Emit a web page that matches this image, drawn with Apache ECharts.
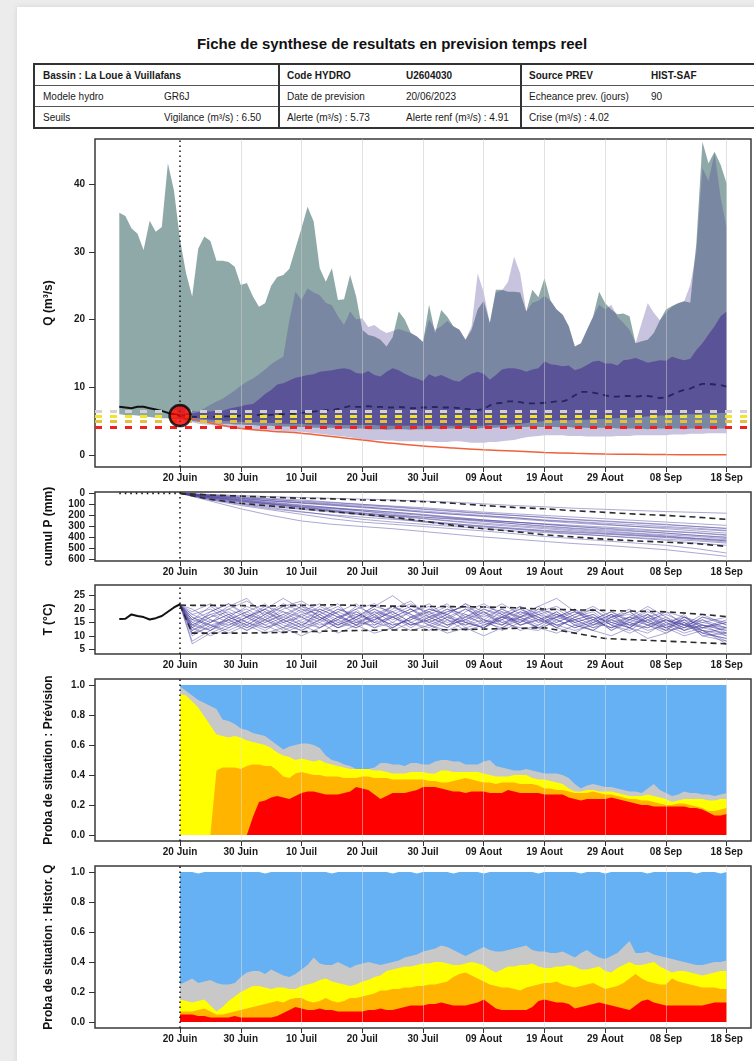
<!DOCTYPE html>
<html lang="fr">
<head>
<meta charset="utf-8">
<title>Fiche de synthese de resultats en prevision temps reel</title>
<script src="https://cdn.jsdelivr.net/npm/echarts@6/dist/echarts.min.js"></script>
<style>
  html, body { margin: 0; padding: 0; }
  body { width: 754px; height: 1061px; background: #ececec; overflow: hidden; position: relative;
         font-family: 'Liberation Sans', Arial, Helvetica, sans-serif; }
  #page { position: absolute; left: 17px; top: 7px; width: 780px; height: 1100px; background: #fff;
          box-shadow: 0 0 6px rgba(0,0,0,0.10); }
  #titre { position: absolute; left: 0; top: 35px; width: 784px; text-align: center; font-weight: bold;
           font-size: 15px; line-height: 18px; color: #111; }
  #fiche { position: absolute; left: 33px; top: 63px; width: 740px; border-collapse: collapse;
           table-layout: fixed; font-size: 10px; color: #1a1a1a; border: 2px solid #333; }
  #fiche td { height: 20px; padding: 0 0 0 8px; white-space: nowrap; overflow: visible;
              border-top: 1px solid #555; border-bottom: 1px solid #555; }
  #fiche tr.entete td { font-weight: bold; }
  #fiche td.sep { border-left: 2px solid #333; padding-left: 7px; }
  #chart { position: absolute; left: 0; top: 0; width: 754px; height: 1061px; }
</style>
</head>
<body>
<div id="page"></div>
<div id="titre">Fiche de synthese de resultats en prevision temps reel</div>
<table id="fiche">
  <colgroup><col style="width:122px"><col style="width:123px"><col style="width:119px"><col style="width:123px"><col style="width:122px"><col style="width:131px"></colgroup>
  <tr class="entete"><td colspan="2">Bassin : La Loue à Vuillafans</td><td class="sep">Code HYDRO</td><td>U2604030</td><td class="sep">Source PREV</td><td>HIST-SAF</td></tr>
  <tr><td>Modele hydro</td><td>GR6J</td><td class="sep">Date de prevision</td><td>20/06/2023</td><td class="sep">Echeance prev. (jours)</td><td>90</td></tr>
  <tr><td>Seuils</td><td>Vigilance (m³/s) : 6.50</td><td class="sep">Alerte (m³/s) : 5.73</td><td>Alerte renf (m³/s) : 4.91</td><td class="sep">Crise (m³/s) : 4.02</td><td></td></tr>
</table>
<div id="chart"></div>
<script>
// ---- time axis: days counted from the forecast date (20/06/2023 = day 0) ----
const firstDay = -14, lastDay = 94;
const xTickDays   = [0, 10, 20, 30, 40, 50, 60, 70, 80, 90];
const xTickLabels = ['20 Juin', '30 Juin', '10 Juil', '20 Juil', '30 Juil', '09 Aout', '19 Aout', '29 Aout', '08 Sep', '18 Sep'];
const qTicks    = [0, 10, 20, 30, 40];
const pTicks    = [0, 100, 200, 300, 400, 500, 600];
const tTicks    = [5, 10, 15, 20, 25];
const probTicks = [0, 0.2, 0.4, 0.6, 0.8, 1.0];

// ---- thresholds (m3/s) ----
const seuilNoms    = ['Vigilance', 'Alerte', 'Alerte renf', 'Crise'];
const seuilValeurs = [6.50, 5.73, 4.91, 4.02];

// ---- discharge: observed (day -10..0) ----
const obsQ = [7.1, 7.0, 6.9, 7.1, 7.1, 6.9, 6.7, 6.5, 6.2, 6.0, 5.8];
const lastObsQ = 5.8;

// ---- discharge: historical envelope (day -10..90) ----
const histMax = [35.8, 35.3, 33.5, 32.7, 30.3, 34.6, 33.0, 33.7, 43.1, 39.1, 31.8,
  26.8, 23.4, 30.5, 32.3, 31.6, 28.7, 28.7, 28.5, 27.8, 25.1,
  25.4, 23.4, 21.9, 22.4, 25.0, 26.3, 26.6, 27.5, 30.5, 33.5,
  36.7, 34.5, 27.6, 25.6, 27.6, 22.9, 23.0, 26.6, 23.4, 18.5,
  17.7, 17.5, 17.0, 16.0, 17.4, 21.2, 20.0, 18.0, 17.5, 16.7,
  22.2, 18.0, 21.4, 20.4, 19.0, 18.5, 17.0, 18.5, 21.5, 22.8,
  19.5, 24.4, 24.4, 24.1, 24.1, 24.0, 21.2, 24.4, 23.3, 26.1,
  22.8, 21.5, 20.7, 19.0, 16.0, 16.5, 18.5, 20.4, 24.1, 22.4,
  21.5, 20.8, 20.9, 20.5, 16.5, 16.8, 17.0, 18.0, 19.9, 21.5,
  22.0, 22.4, 22.7, 22.5, 31.3, 46.3, 43.1, 44.8, 42.9, 40.1];
const histMin = [6.0, 5.9, 5.9, 5.8, 5.7, 5.6, 5.5, 5.4, 5.4, 5.3, 5.3,
  5.1, 5.0, 4.9, 4.8, 4.8, 4.7, 4.6, 4.6, 4.5, 4.5,
  4.4, 4.4, 4.3, 4.3, 4.3, 4.2, 4.2, 4.2, 4.1, 4.1,
  4.1, 4.0, 4.0, 4.0, 4.0, 3.9, 3.9, 3.9, 3.9, 3.9,
  3.8, 3.8, 3.8, 3.7, 3.8, 3.8, 3.8, 3.7, 3.8, 3.8,
  3.8, 3.9, 3.8, 3.9, 3.9, 3.9, 4.0, 3.9, 3.9, 4.0,
  4.0, 4.0, 4.1, 4.0, 4.1, 4.1, 4.1, 4.2, 4.1, 4.1,
  4.1, 4.1, 4.0, 4.1, 4.0, 4.0, 4.0, 3.9, 4.0, 4.0,
  4.0, 3.9, 3.9, 3.9, 3.9, 3.9, 3.8, 3.9, 3.9, 3.9,
  3.9, 3.9, 3.8, 3.9, 3.9, 3.9, 3.9, 3.9, 3.9, 3.9];

// ---- discharge: ensemble forecast (day 0..90) ----
const prevMax = [5.9, 6.2, 6.5, 6.4, 6.9, 7.4, 7.9, 8.3, 8.9, 9.5, 10.2,
  10.8, 11.3, 11.9, 12.6, 13.4, 14.0, 14.5, 19.9, 24.1, 22.9,
  24.6, 24.0, 23.6, 22.5, 22.1, 20.5, 19.2, 21.2, 20.0, 20.2,
  18.9, 19.2, 18.5, 18.0, 18.3, 18.6, 18.3, 18.0, 17.5, 16.7,
  20.0, 18.5, 19.0, 19.8, 19.0, 18.5, 17.0, 19.0, 26.8, 24.0,
  19.5, 24.0, 24.3, 25.6, 29.3, 26.8, 21.2, 22.5, 22.8, 23.5,
  22.8, 21.5, 20.7, 19.0, 16.0, 16.5, 18.5, 20.4, 22.2, 21.5,
  22.2, 20.4, 19.5, 18.5, 16.5, 19.5, 22.4, 21.0, 19.9, 21.0,
  21.9, 22.4, 22.7, 25.1, 30.0, 42.4, 40.5, 44.6, 38.0, 33.5];
const prevMin = [5.6, 5.1, 4.8, 4.6, 4.5, 4.4, 4.3, 4.2, 4.1, 4.0, 3.9,
  3.8, 3.8, 3.7, 3.7, 3.6, 3.6, 3.5, 3.5, 3.4, 3.4,
  3.3, 3.2, 3.1, 3.0, 2.9, 2.8, 2.7, 2.6, 2.4, 2.3,
  2.2, 2.2, 2.2, 2.1, 2.1, 2.0, 2.0, 2.0, 2.0, 2.0,
  2.0, 1.9, 1.9, 1.9, 2.0, 2.0, 1.9, 1.8, 1.8, 1.8,
  1.9, 1.9, 2.0, 2.1, 2.2, 2.4, 2.6, 2.7, 2.8, 2.9,
  2.9, 2.9, 2.9, 2.8, 2.8, 2.8, 2.7, 2.7, 2.7, 2.7,
  2.7, 2.8, 2.8, 2.8, 2.9, 2.9, 2.9, 2.9, 2.9, 2.9,
  3.0, 3.0, 3.0, 3.1, 3.1, 3.1, 3.2, 3.2, 3.2, 3.2];
const prevQ75 = [5.9, 6.0, 6.1, 6.3, 6.4, 6.4, 6.5, 6.5, 6.8, 7.0, 7.2,
  7.4, 7.5, 8.2, 9.0, 9.6, 10.4, 10.6, 11.0, 11.4, 11.6,
  11.8, 11.9, 12.3, 12.4, 12.5, 12.7, 12.8, 12.6, 12.1, 12.0,
  12.4, 11.8, 11.6, 12.3, 12.8, 12.5, 12.0, 11.6, 11.3, 10.9,
  11.9, 11.5, 11.8, 11.4, 11.0, 10.8, 11.5, 12.0, 12.3, 12.0,
  11.1, 11.8, 12.6, 12.8, 12.8, 12.6, 12.3, 12.6, 12.8, 13.8,
  13.4, 13.3, 13.1, 13.2, 12.5, 12.8, 13.3, 13.8, 13.9, 13.5,
  13.5, 13.2, 14.0, 14.1, 14.3, 14.0, 13.6, 13.8, 14.0, 13.9,
  14.5, 14.2, 14.0, 14.2, 15.5, 16.5, 17.8, 19.0, 20.5, 21.2];
const prevQ25 = [5.8, 5.6, 5.5, 5.4, 5.3, 5.2, 5.1, 5.0, 5.0, 4.9, 4.9,
  4.8, 4.8, 4.8, 4.7, 4.7, 4.7, 4.6, 4.6, 4.6, 4.6,
  4.5, 4.5, 4.5, 4.5, 4.5, 4.4, 4.4, 4.4, 4.4, 4.4,
  4.4, 4.4, 4.3, 4.3, 4.3, 4.3, 4.3, 4.3, 4.3, 4.3,
  4.3, 4.3, 4.3, 4.3, 4.3, 4.3, 4.3, 4.3, 4.3, 4.3,
  4.4, 4.4, 4.4, 4.5, 4.5, 4.6, 4.7, 4.8, 4.9, 5.0,
  5.0, 5.1, 5.1, 5.1, 5.2, 5.2, 5.2, 5.3, 5.3, 5.3,
  5.4, 5.4, 5.5, 5.5, 5.6, 5.6, 5.7, 5.7, 5.8, 5.8,
  5.9, 5.9, 6.0, 6.0, 6.0, 6.1, 6.1, 6.1, 6.2, 6.2];
const prevMed = [5.8, 5.7, 5.6, 5.6, 5.6, 5.6, 5.6, 5.7, 5.7, 5.7, 5.8,
  5.8, 5.8, 5.9, 5.9, 5.9, 6.0, 6.0, 6.1, 6.1, 6.2,
  6.3, 6.4, 6.5, 6.6, 6.6, 6.8, 7.0, 7.2, 7.1, 7.1,
  7.2, 7.1, 7.1, 7.0, 7.0, 7.1, 7.0, 6.9, 6.9, 7.0,
  7.0, 7.1, 7.0, 7.0, 7.0, 6.9, 6.8, 6.7, 6.6, 6.8,
  7.3, 7.6, 7.7, 7.9, 7.9, 7.8, 7.6, 7.6, 7.6, 7.7,
  7.8, 7.9, 7.9, 8.2, 8.8, 9.3, 9.3, 9.2, 9.0, 8.8,
  8.6, 8.6, 8.7, 8.7, 8.6, 8.7, 8.7, 8.6, 8.4, 8.5,
  8.9, 9.3, 9.6, 9.8, 10.2, 10.5, 10.5, 10.4, 10.3, 10.1];
// recession without rain
const recDays = [0, 5, 10, 15, 20, 25, 30, 35, 40, 45, 50, 55, 60, 65, 70, 75, 80, 85, 90];
const recQ    = [5.8, 4.7, 3.9, 3.5, 3.2, 2.7, 2.2, 1.7, 1.3, 1.0, 0.75, 0.55, 0.35, 0.22, 0.12, 0.07, 0.03, 0.01, 0.0];

// ---- cumulated precipitation (mm) ----
const obsCumulP = [0, 0, 0, 0, 0, 0, 0, 0, 0, 0, 0];
const pDays = [0, 5, 10, 15, 20, 25, 30, 35, 40, 45, 50, 55, 60, 65, 70, 75, 80, 85, 90];
const pMembers = [
  [0, 10, 20, 30, 38, 45, 52, 60, 70, 80, 95, 110, 122, 135, 145, 155, 165, 172, 180],
  [0, 20, 45, 70, 90, 110, 125, 140, 160, 180, 200, 220, 245, 260, 280, 300, 320, 340, 360],
  [0, 40, 80, 110, 140, 160, 185, 205, 230, 255, 280, 300, 320, 340, 360, 375, 390, 410, 430],
  [0, 60, 110, 150, 190, 230, 260, 280, 300, 320, 340, 365, 390, 410, 430, 450, 470, 500, 540],
  [0, 30, 60, 90, 115, 135, 150, 170, 190, 215, 240, 260, 275, 290, 305, 320, 340, 355, 375],
  [0, 15, 35, 55, 75, 95, 110, 125, 145, 165, 185, 200, 215, 235, 250, 265, 280, 300, 320],
  [0, 50, 95, 130, 165, 200, 235, 260, 280, 300, 320, 340, 355, 370, 385, 400, 415, 430, 450],
  [0, 25, 50, 70, 85, 100, 120, 145, 170, 190, 210, 230, 250, 270, 285, 300, 310, 325, 340],
  [0, 45, 75, 100, 125, 150, 175, 200, 225, 250, 270, 290, 310, 330, 350, 365, 385, 405, 420],
  [0, 35, 65, 95, 125, 155, 180, 200, 215, 230, 245, 260, 280, 300, 315, 330, 345, 360, 380],
  [0, 70, 140, 200, 250, 280, 300, 320, 345, 370, 395, 415, 435, 455, 470, 490, 510, 540, 570],
  [0, 20, 40, 55, 70, 85, 100, 115, 130, 150, 170, 185, 200, 215, 230, 245, 260, 275, 290],
  [0, 30, 55, 80, 105, 130, 160, 190, 215, 235, 255, 275, 295, 315, 330, 345, 360, 380, 400],
  [0, 40, 70, 95, 120, 140, 160, 180, 200, 225, 250, 275, 300, 320, 340, 360, 375, 390, 410],
  [0, 25, 45, 65, 85, 105, 130, 150, 170, 190, 205, 220, 240, 255, 270, 285, 300, 315, 335],
  [0, 30, 70, 100, 130, 160, 190, 220, 250, 275, 300, 320, 340, 355, 370, 385, 400, 420, 440],
  [0, 15, 30, 45, 60, 80, 100, 120, 140, 160, 180, 200, 220, 240, 255, 270, 285, 300, 315],
  [0, 55, 100, 140, 170, 195, 215, 235, 255, 275, 295, 315, 335, 350, 365, 380, 395, 410, 430],
  [0, 35, 60, 85, 110, 130, 150, 170, 195, 220, 240, 260, 280, 300, 320, 340, 360, 380, 395],
  [0, 45, 90, 120, 145, 170, 195, 225, 260, 285, 305, 325, 345, 365, 385, 405, 425, 450, 470]
];
const pQ10 = [0, 15, 25, 35, 45, 50, 60, 65, 75, 90, 110, 127, 140, 158, 172, 188, 200, 215, 236];
const pQ90 = [0, 55, 90, 115, 140, 165, 190, 215, 250, 290, 320, 345, 375, 395, 415, 430, 442, 455, 480];

// ---- air temperature (°C) ----
const obsT = [16.3, 16.4, 18.0, 17.4, 17.0, 16.1, 16.6, 17.4, 19.0, 20.6, 21.8];
const tDays = [0, 2, 5, 8, 11, 14, 17, 20, 23, 26, 29, 32, 35, 38, 41, 44, 47, 50, 53, 56, 59, 62, 65, 68, 71, 74, 77, 80, 83, 86, 90];
const tMembers = [
  [21.5, 14, 17, 19, 15, 12, 16, 20, 18, 14, 17, 21, 19, 15, 13, 17, 20, 16, 14, 18, 21, 17, 15, 12, 16, 19, 15, 13, 16, 12, 10],
  [21.5, 11, 13, 17, 21, 18, 14, 12, 16, 19, 22, 17, 14, 16, 20, 18, 13, 15, 19, 17, 14, 18, 16, 13, 15, 17, 14, 11, 14, 16, 13],
  [21.5, 18, 20, 16, 13, 17, 21, 23, 19, 15, 13, 16, 19, 22, 18, 15, 17, 21, 19, 14, 16, 13, 17, 19, 14, 12, 16, 18, 15, 11, 9],
  [21.5, 8, 12, 15, 18, 14, 11, 14, 17, 13, 16, 19, 15, 12, 14, 17, 15, 19, 16, 12, 14, 17, 20, 16, 13, 15, 12, 14, 11, 13, 15],
  [21.5, 16, 19, 22, 18, 16, 19, 15, 13, 17, 20, 14, 17, 20, 16, 13, 19, 22, 18, 15, 19, 21, 17, 14, 18, 16, 19, 16, 13, 17, 14],
  [21.5, 13, 10, 13, 16, 20, 17, 14, 11, 15, 18, 16, 21, 18, 14, 12, 15, 13, 17, 20, 17, 13, 11, 15, 18, 13, 11, 15, 17, 14, 12],
  [21.5, 20, 16, 14, 17, 21, 19, 17, 21, 18, 14, 18, 12, 15, 18, 21, 17, 15, 13, 17, 19, 15, 18, 20, 16, 14, 17, 13, 10, 12, 8],
  [21.5, 12, 15, 18, 13, 16, 13, 18, 15, 11, 14, 19, 17, 13, 17, 19, 21, 18, 15, 13, 12, 16, 19, 17, 12, 16, 18, 14, 16, 10, 11],
  [21.5, 17, 14, 11, 14, 18, 22, 19, 16, 20, 17, 13, 15, 19, 21, 16, 14, 18, 22, 18, 15, 19, 14, 12, 17, 20, 16, 12, 13, 15, 17],
  [21.5, 15, 18, 20, 23, 19, 15, 17, 14, 16, 21, 18, 13, 17, 15, 18, 22, 16, 14, 19, 16, 14, 16, 18, 14, 11, 14, 17, 12, 14, 13],
  [21.5, 10, 14, 16, 12, 15, 18, 21, 17, 13, 15, 18, 21, 17, 19, 14, 16, 20, 17, 16, 18, 16, 13, 16, 19, 15, 13, 16, 14, 12, 7],
  [21.5, 19, 22, 18, 15, 13, 15, 18, 20, 17, 19, 15, 17, 14, 16, 20, 18, 14, 16, 21, 18, 14, 12, 14, 17, 18, 15, 19, 17, 13, 15],
  [21.5, 14, 12, 16, 19, 22, 16, 13, 16, 20, 18, 15, 20, 23, 17, 14, 18, 16, 20, 17, 13, 17, 19, 15, 13, 16, 20, 15, 12, 16, 11],
  [21.5, 16, 21, 17, 14, 11, 13, 16, 19, 22, 15, 17, 14, 16, 19, 22, 15, 13, 17, 15, 20, 18, 15, 17, 15, 13, 17, 14, 18, 11, 13],
  [21.5, 7, 11, 14, 17, 20, 24, 20, 16, 13, 17, 21, 25, 20, 15, 18, 22, 19, 15, 17, 21, 24, 19, 16, 13, 17, 21, 17, 14, 18, 14],
  [21.5, 13, 17, 21, 24, 17, 13, 10, 13, 17, 14, 11, 13, 17, 14, 11, 13, 10, 13, 16, 13, 11, 14, 12, 10, 13, 9, 11, 15, 10, 8],
  [21.5, 12, 16, 13, 17, 20, 15, 12, 15, 19, 16, 13, 17, 20, 17, 14, 16, 19, 14, 17, 20, 16, 13, 15, 18, 14, 16, 13, 15, 12, 11],
  [21.5, 15, 12, 17, 14, 18, 21, 17, 13, 16, 20, 22, 18, 14, 17, 20, 16, 13, 18, 21, 15, 17, 20, 14, 16, 13, 18, 15, 12, 14, 10],
  [21.5, 18, 15, 20, 17, 13, 16, 19, 22, 18, 14, 16, 19, 15, 12, 16, 20, 17, 20, 16, 13, 15, 18, 21, 17, 14, 13, 16, 13, 17, 15],
  [21.5, 11, 15, 18, 20, 16, 12, 15, 18, 14, 17, 20, 16, 19, 22, 17, 14, 16, 12, 15, 18, 20, 16, 18, 14, 17, 15, 12, 16, 14, 12],
  [21.5, 14, 18, 15, 12, 16, 20, 22, 17, 14, 19, 15, 13, 17, 20, 18, 15, 13, 16, 19, 17, 14, 16, 13, 17, 19, 14, 16, 14, 11, 9],
  [21.5, 17, 13, 16, 19, 15, 18, 14, 18, 21, 16, 20, 17, 14, 16, 19, 21, 15, 17, 14, 16, 19, 15, 17, 12, 15, 18, 13, 17, 15, 13],
  [21.5, 13, 19, 22, 17, 14, 17, 21, 19, 16, 13, 17, 21, 18, 15, 13, 17, 20, 18, 14, 17, 13, 17, 20, 15, 13, 17, 19, 14, 13, 11],
  [21.5, 16, 14, 12, 15, 19, 16, 13, 20, 17, 15, 14, 18, 21, 19, 16, 12, 14, 17, 20, 16, 18, 14, 16, 19, 16, 14, 12, 17, 13, 16]
];
const tQDays = [0, 2, 5, 10, 15, 20, 25, 30, 35, 40, 45, 50, 55, 60, 65, 70, 75, 80, 85, 90];
const tQ90 = [21.5, 21.4, 21.4, 21.3, 21.2, 21.4, 21.6, 21.3, 21.1, 21.0, 20.9, 20.8, 20.5, 20.0, 19.7, 19.5, 19.2, 19.0, 18.2, 17.2];
const tQ10 = [21.5, 11.0, 11.0, 11.0, 11.2, 11.5, 11.8, 12.0, 12.2, 12.2, 12.3, 12.5, 12.8, 13.0, 11.0, 9.0, 8.5, 8.0, 7.5, 7.0];

// ---- situation probabilities, cumulated from "Crise" upward (day 0..90) ----
const prevTotal = [1,1,1,1,1,1,1,1,1,1,1, 1,1,1,1,1,1,1,1,1,1, 1,1,1,1,1,1,1,1,1,1, 1,1,1,1,1,1,1,1,1,1,
  1,1,1,1,1,1,1,1,1,1, 1,1,1,1,1,1,1,1,1,1, 1,1,1,1,1,1,1,1,1,1, 1,1,1,1,1,1,1,1,1,1, 1,1,1,1,1,1,1,1,1,1];
const prevVigil = [0.99, 0.96, 0.93, 0.90, 0.88, 0.86, 0.84, 0.77, 0.76, 0.74, 0.71,
  0.70, 0.68, 0.67, 0.66, 0.63, 0.60, 0.57, 0.59, 0.60, 0.61,
  0.61, 0.60, 0.58, 0.53, 0.50, 0.49, 0.47, 0.46, 0.44, 0.44,
  0.44, 0.45, 0.48, 0.48, 0.47, 0.47, 0.46, 0.48, 0.48, 0.47,
  0.47, 0.49, 0.50, 0.50, 0.49, 0.49, 0.47, 0.47, 0.47, 0.49,
  0.50, 0.46, 0.45, 0.44, 0.43, 0.43, 0.44, 0.43, 0.42, 0.41,
  0.41, 0.41, 0.40, 0.38, 0.34, 0.31, 0.33, 0.34, 0.33, 0.32,
  0.32, 0.31, 0.30, 0.29, 0.29, 0.28, 0.31, 0.34, 0.30, 0.28,
  0.26, 0.27, 0.29, 0.28, 0.28, 0.27, 0.27, 0.26, 0.27, 0.28];
const prevAlerte = [0.94, 0.93, 0.89, 0.85, 0.79, 0.73, 0.67, 0.66, 0.65, 0.66, 0.65,
  0.63, 0.62, 0.61, 0.60, 0.58, 0.55, 0.53, 0.52, 0.50, 0.51,
  0.50, 0.49, 0.50, 0.48, 0.47, 0.46, 0.45, 0.44, 0.44, 0.44,
  0.44, 0.43, 0.43, 0.42, 0.41, 0.41, 0.41, 0.42, 0.42, 0.42,
  0.41, 0.41, 0.43, 0.43, 0.42, 0.42, 0.42, 0.42, 0.42, 0.41,
  0.40, 0.39, 0.39, 0.39, 0.40, 0.40, 0.40, 0.38, 0.37, 0.37,
  0.36, 0.35, 0.34, 0.31, 0.29, 0.29, 0.30, 0.30, 0.29, 0.29,
  0.29, 0.28, 0.27, 0.26, 0.26, 0.26, 0.27, 0.26, 0.25, 0.24,
  0.22, 0.23, 0.24, 0.24, 0.24, 0.24, 0.23, 0.23, 0.24, 0.24];
const prevRenf = [0, 0, 0, 0, 0, 0, 0.43, 0.45, 0.45, 0.45, 0.44,
  0.46, 0.47, 0.47, 0.46, 0.46, 0.43, 0.39, 0.38, 0.41, 0.42,
  0.41, 0.40, 0.40, 0.39, 0.39, 0.39, 0.38, 0.38, 0.38, 0.39,
  0.39, 0.38, 0.38, 0.38, 0.37, 0.37, 0.37, 0.37, 0.37, 0.37,
  0.36, 0.36, 0.35, 0.35, 0.36, 0.37, 0.38, 0.37, 0.36, 0.35,
  0.35, 0.34, 0.35, 0.35, 0.35, 0.34, 0.34, 0.34, 0.33, 0.31,
  0.31, 0.30, 0.30, 0.29, 0.28, 0.28, 0.28, 0.29, 0.28, 0.27,
  0.27, 0.26, 0.25, 0.24, 0.24, 0.23, 0.23, 0.22, 0.21, 0.20,
  0.20, 0.21, 0.21, 0.20, 0.19, 0.18, 0.16, 0.16, 0.17, 0.18];
const prevCrise = [0, 0, 0, 0, 0, 0, 0, 0, 0, 0, 0,
  0, 0.12, 0.22, 0.23, 0.25, 0.26, 0.25, 0.24, 0.26, 0.28,
  0.29, 0.29, 0.28, 0.27, 0.27, 0.27, 0.28, 0.29, 0.32, 0.31,
  0.30, 0.27, 0.24, 0.26, 0.28, 0.28, 0.28, 0.29, 0.30, 0.32,
  0.32, 0.32, 0.31, 0.30, 0.29, 0.29, 0.28, 0.29, 0.29, 0.29,
  0.28, 0.28, 0.28, 0.30, 0.29, 0.28, 0.28, 0.28, 0.28, 0.27,
  0.27, 0.27, 0.27, 0.25, 0.24, 0.23, 0.24, 0.24, 0.24, 0.24,
  0.25, 0.24, 0.23, 0.22, 0.21, 0.20, 0.20, 0.19, 0.19, 0.19,
  0.19, 0.19, 0.19, 0.18, 0.18, 0.17, 0.15, 0.13, 0.13, 0.14];

const histTotal = [1,1,1,0.99,1,1,1,1,1,1,1, 1,1,1,0.99,1,1,1,1,1,1, 1,1,1,1,0.99,1,1,1,1,1,
  1,1,1,1,0.99,1,1,1,0.99,1, 1,1,1,1,0.99,1,1,1,1,0.99, 1,1,1,1,1,1,1,1,0.99,1,
  1,1,1,1,1,0.99,1,1,1,0.99, 1,1,1,1,1,1,0.99,1,1,1, 1,1,1,1,0.99,1,1,1,0.99,1];
const histVigil = [0.25, 0.27, 0.29, 0.26, 0.27, 0.28, 0.26, 0.25, 0.25, 0.26, 0.30,
  0.33, 0.34, 0.34, 0.32, 0.35, 0.33, 0.31, 0.30, 0.32, 0.35,
  0.38, 0.43, 0.39, 0.38, 0.38, 0.40, 0.38, 0.36, 0.38, 0.39,
  0.40, 0.39, 0.38, 0.39, 0.40, 0.41, 0.43, 0.44, 0.45, 0.47,
  0.48, 0.49, 0.51, 0.50, 0.48, 0.46, 0.44, 0.46, 0.48, 0.50,
  0.48, 0.47, 0.47, 0.48, 0.49, 0.50, 0.51, 0.48, 0.47, 0.47,
  0.46, 0.46, 0.47, 0.45, 0.43, 0.46, 0.48, 0.45, 0.43, 0.42,
  0.44, 0.46, 0.50, 0.54, 0.46, 0.46, 0.47, 0.45, 0.44, 0.43,
  0.42, 0.41, 0.40, 0.39, 0.38, 0.38, 0.39, 0.40, 0.40, 0.41];
const histAlerte = [0.15, 0.14, 0.13, 0.14, 0.15, 0.11, 0.07, 0.10, 0.14, 0.17, 0.20,
  0.22, 0.24, 0.24, 0.23, 0.22, 0.23, 0.23, 0.22, 0.22, 0.24,
  0.25, 0.26, 0.28, 0.29, 0.27, 0.26, 0.25, 0.24, 0.25, 0.27,
  0.28, 0.30, 0.31, 0.34, 0.35, 0.36, 0.37, 0.37, 0.38, 0.39,
  0.39, 0.40, 0.40, 0.39, 0.38, 0.38, 0.39, 0.40, 0.39, 0.38,
  0.35, 0.33, 0.35, 0.37, 0.37, 0.38, 0.38, 0.39, 0.37, 0.36,
  0.36, 0.37, 0.37, 0.38, 0.37, 0.35, 0.35, 0.36, 0.37, 0.34,
  0.33, 0.36, 0.38, 0.40, 0.38, 0.38, 0.39, 0.40, 0.37, 0.35,
  0.33, 0.34, 0.34, 0.33, 0.32, 0.31, 0.32, 0.33, 0.34, 0.34];
const histRenf = [0.07, 0.07, 0.07, 0.08, 0.09, 0.07, 0.05, 0.05, 0.06, 0.07, 0.08,
  0.09, 0.10, 0.11, 0.12, 0.13, 0.14, 0.13, 0.15, 0.16, 0.16,
  0.14, 0.13, 0.14, 0.16, 0.14, 0.13, 0.14, 0.16, 0.16, 0.17,
  0.18, 0.19, 0.21, 0.21, 0.22, 0.22, 0.23, 0.23, 0.24, 0.24,
  0.25, 0.25, 0.26, 0.27, 0.30, 0.32, 0.33, 0.31, 0.29, 0.27,
  0.25, 0.24, 0.23, 0.23, 0.22, 0.21, 0.23, 0.24, 0.25, 0.26,
  0.26, 0.27, 0.25, 0.24, 0.23, 0.24, 0.25, 0.26, 0.24, 0.22,
  0.23, 0.24, 0.26, 0.29, 0.32, 0.29, 0.27, 0.26, 0.25, 0.25,
  0.29, 0.27, 0.26, 0.25, 0.24, 0.23, 0.23, 0.23, 0.22, 0.22];
const histCrise = [0.05, 0.05, 0.05, 0.04, 0.04, 0.03, 0.03, 0.03, 0.03, 0.04, 0.03,
  0.03, 0.03, 0.03, 0.03, 0.03, 0.04, 0.06, 0.08, 0.10, 0.09,
  0.08, 0.08, 0.09, 0.08, 0.08, 0.07, 0.07, 0.07, 0.07, 0.07,
  0.08, 0.08, 0.09, 0.08, 0.08, 0.09, 0.10, 0.11, 0.11, 0.11,
  0.12, 0.12, 0.13, 0.12, 0.11, 0.11, 0.11, 0.12, 0.13, 0.15,
  0.12, 0.09, 0.08, 0.08, 0.08, 0.08, 0.08, 0.10, 0.14, 0.15,
  0.14, 0.13, 0.13, 0.12, 0.09, 0.10, 0.11, 0.12, 0.13, 0.12,
  0.11, 0.10, 0.09, 0.08, 0.11, 0.14, 0.15, 0.13, 0.12, 0.11,
  0.11, 0.11, 0.11, 0.11, 0.11, 0.11, 0.12, 0.13, 0.13, 0.13];

// ---------------------------------------------------------------------------
const FONT = "'Liberation Sans', Arial, Helvetica, sans-serif";
const COL = {
  hist: '#8fa8a8', prevEnv: 'rgba(77,61,148,0.31)', prevInner: 'rgba(77,61,148,0.70)',
  median: '#26265e', rec: '#f0603a', ens: 'rgba(72,62,158,0.45)', quant: '#2b2b2b',
  seuils: ['#d2d2d6', '#f2e52a', '#e6bf3c', '#ee2020'],
  classes: { total: '#66b0f4', vigil: '#c8c8c8', alerte: '#ffff00', renf: '#ffb400', crise: '#ff0000' },
  grid: 'rgba(200,200,200,0.55)', gridProb: 'rgba(225,225,225,0.5)'
};

// one category per day over the plotted span
const dayCats = [];
for (let d = firstDay; d <= lastDay; d++) dayCats.push(String(d));
const isTickDay = (idx, val) => xTickDays.indexOf(Number(val)) >= 0;

const daily  = (start, vals) => vals.map((v, i) => [String(start + i), v]);
const paired = (days, vals) => days.map((d, i) => [String(d), vals[i]]);
const diff   = (a, b) => a.map((v, i) => +(v - b[i]).toFixed(3));

const gridBoxes = [
  { left: 95, top: 139, width: 656, height: 328 },
  { left: 95, top: 492, width: 656, height: 69 },
  { left: 95, top: 585, width: 656, height: 69 },
  { left: 95, top: 679, width: 656, height: 162 },
  { left: 95, top: 866, width: 656, height: 162 }
].map(b => Object.assign({ show: true, borderColor: '#3a3a3a', borderWidth: 1.5, backgroundColor: 'rgba(0,0,0,0)' }, b));

const labelStyle = { fontFamily: FONT, fontWeight: 'bold', fontSize: 10, color: '#1a1a1a' };

function xAxisFor(gi) {
  return {
    type: 'category', gridIndex: gi, data: dayCats, boundaryGap: false,
    axisLine: { show: false, onZero: false }, splitLine: { show: false },
    axisTick: { show: true, interval: isTickDay, length: 5, lineStyle: { color: '#333' } },
    axisLabel: Object.assign({ interval: isTickDay, margin: 6,
      formatter: v => { const k = xTickDays.indexOf(Number(v)); return k < 0 ? '' : xTickLabels[k]; } }, labelStyle)
  };
}
function yAxisFor(gi, min, max, ticks, name, fmt, inverse) {
  return {
    type: 'value', gridIndex: gi, min: min, max: max, inverse: !!inverse,
    name: name, nameLocation: 'middle', nameRotate: 90, nameGap: 40,
    nameTextStyle: { fontFamily: FONT, fontWeight: 'bold', fontSize: 12, color: '#111' },
    axisLine: { show: false, onZero: false }, splitLine: { show: false },
    axisTick: { show: true, customValues: ticks, length: 6, lineStyle: { color: '#333' } },
    axisLabel: Object.assign({ customValues: ticks, margin: 10, formatter: fmt }, labelStyle)
  };
}

const lineBase = { type: 'line', symbol: 'none', showSymbol: false, silent: true, animation: false, emphasis: { disabled: true } };
const onGrid = (gi, s) => Object.assign({}, lineBase, { xAxisIndex: gi, yAxisIndex: gi }, s);

// vertical guides: light day grid on top of the fills, dotted line on the forecast date
function guides(gi, color, extra) {
  const lines = xTickDays.slice(1).map(d => ({ xAxis: String(d), lineStyle: { color: color, width: 1, type: 'solid' } }));
  lines.push({ xAxis: '0', lineStyle: { color: '#111', width: 1.5, type: [1.5, 3.5] } });
  return onGrid(gi, { data: [], z: 6, markLine: { symbol: 'none', silent: true, animation: false,
    label: { show: false }, data: lines.concat(extra || []) } });
}

const series = [];

// ---- panel 1: discharge ----
series.push(onGrid(0, { data: daily(-10, histMin), stack: 'hist', lineStyle: { opacity: 0 } }));
series.push(onGrid(0, { data: daily(-10, diff(histMax, histMin)), stack: 'hist', lineStyle: { opacity: 0 },
  areaStyle: { color: COL.hist, opacity: 1 } }));
series.push(onGrid(0, { data: daily(0, prevMin), stack: 'prev', lineStyle: { opacity: 0 } }));
series.push(onGrid(0, { data: daily(0, diff(prevMax, prevMin)), stack: 'prev', lineStyle: { opacity: 0 },
  areaStyle: { color: COL.prevEnv, opacity: 1 } }));
series.push(onGrid(0, { data: daily(0, prevQ25), stack: 'inner', lineStyle: { opacity: 0 } }));
series.push(onGrid(0, { data: daily(0, diff(prevQ75, prevQ25)), stack: 'inner', lineStyle: { opacity: 0 },
  areaStyle: { color: COL.prevInner, opacity: 1 } }));
series.push(onGrid(0, { data: daily(0, prevMed), lineStyle: { color: COL.median, width: 1.8, type: [6, 5] } }));
series.push(onGrid(0, { data: paired(recDays, recQ), smooth: 0.4, lineStyle: { color: COL.rec, width: 1.5 } }));
series.push(onGrid(0, { data: daily(-10, obsQ), lineStyle: { color: '#111', width: 2 } }));
series.push(guides(0, COL.grid, seuilValeurs.map((v, i) => ({ yAxis: v, name: seuilNoms[i],
  lineStyle: { color: COL.seuils[i], width: 3, type: [7, 8] } }))));
series.push({ type: 'scatter', xAxisIndex: 0, yAxisIndex: 0, data: [['0', lastObsQ]], symbolSize: 21, z: 10,
  silent: true, animation: false, itemStyle: { color: '#f00000', borderColor: '#000', borderWidth: 2.5 } });

// ---- panel 2: cumulated precipitation ----
pMembers.forEach(m => series.push(onGrid(1, { data: paired(pDays, m), lineStyle: { color: COL.ens, width: 1 } })));
series.push(onGrid(1, { data: paired(pDays, pQ10), lineStyle: { color: COL.quant, width: 1.6, type: [6, 4] } }));
series.push(onGrid(1, { data: paired(pDays, pQ90), lineStyle: { color: COL.quant, width: 1.6, type: [6, 4] } }));
series.push(onGrid(1, { data: daily(-10, obsCumulP), lineStyle: { color: '#111', width: 1.8, type: [1.5, 4] } }));
series.push(guides(1, COL.grid));

// ---- panel 3: temperature ----
tMembers.forEach(m => series.push(onGrid(2, { data: paired(tDays, m), lineStyle: { color: COL.ens, width: 1 } })));
series.push(onGrid(2, { data: paired(tQDays, tQ90), lineStyle: { color: COL.quant, width: 1.6, type: [6, 4] } }));
series.push(onGrid(2, { data: paired(tQDays, tQ10), lineStyle: { color: COL.quant, width: 1.6, type: [6, 4] } }));
series.push(onGrid(2, { data: daily(-10, obsT), lineStyle: { color: '#111', width: 2 } }));
series.push(guides(2, COL.grid));

// ---- panels 4 and 5: situation probabilities (painted from the widest class down) ----
function probPanel(gi, layers) {
  layers.forEach(([vals, color]) => series.push(onGrid(gi, { data: daily(0, vals),
    lineStyle: { width: 0, opacity: 0 }, areaStyle: { color: color, opacity: 1 } })));
  series.push(guides(gi, COL.gridProb));
}
probPanel(3, [[prevTotal, COL.classes.total], [prevVigil, COL.classes.vigil], [prevAlerte, COL.classes.alerte],
  [prevRenf, COL.classes.renf], [prevCrise, COL.classes.crise]]);
probPanel(4, [[histTotal, COL.classes.total], [histVigil, COL.classes.vigil], [histAlerte, COL.classes.alerte],
  [histRenf, COL.classes.renf], [histCrise, COL.classes.crise]]);

const fmtProb = v => v.toFixed(1);
const option = {
  animation: false,
  backgroundColor: 'rgba(0,0,0,0)',
  textStyle: { fontFamily: FONT },
  grid: gridBoxes,
  xAxis: [0, 1, 2, 3, 4].map(xAxisFor),
  yAxis: [
    yAxisFor(0, -1.8, 46.7, qTicks, 'Q (m³/s)', v => String(v)),
    yAxisFor(1, -12, 612, pTicks, 'cumul P (mm)', v => String(v), true),
    yAxisFor(2, 3.2, 29, tTicks, 'T (°C)', v => String(v)),
    yAxisFor(3, -0.04, 1.04, probTicks, 'Proba de situation : Prévision', fmtProb),
    yAxisFor(4, -0.04, 1.04, probTicks, 'Proba de situation : Histor. Q', fmtProb)
  ],
  series: series
};

const chart = echarts.init(document.getElementById('chart'), null, { renderer: 'canvas' });
chart.setOption(option);
</script>
</body>
</html>
